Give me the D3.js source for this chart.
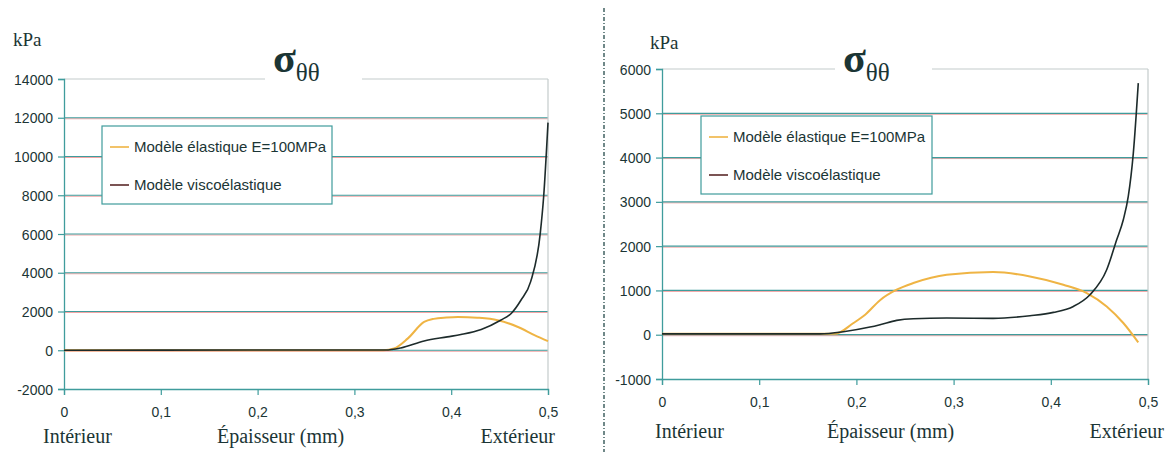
<!DOCTYPE html>
<html><head><meta charset="utf-8">
<script src="https://cdn.jsdelivr.net/npm/d3@7"></script>
<style>body{margin:0;background:#fff}svg{display:block}</style>
</head><body>
<svg id="c" width="1165" height="454"></svg>
<script>
// ---- data ----
const seriesNames = ["Modèle élastique E=100MPa", "Modèle viscoélastique"];
const xTicks = [0, 0.1, 0.2, 0.3, 0.4, 0.5];
const leftYTicks = [-2000, 0, 2000, 4000, 6000, 8000, 10000, 12000, 14000];
const rightYTicks = [-1000, 0, 1000, 2000, 3000, 4000, 5000, 6000];
const leftElasticX = [0, 0.19, 0.33, 0.341, 0.355, 0.372, 0.382, 0.395, 0.407, 0.427, 0.448, 0.469, 0.486, 0.5];
const leftElasticY = [0, 0, 0, 90, 600, 1460, 1620, 1690, 1720, 1680, 1550, 1200, 780, 470];
const leftViscoX = [0, 0.19, 0.332, 0.348, 0.372, 0.396, 0.41, 0.431, 0.451, 0.462, 0.472, 0.482, 0.492, 0.4955, 0.5];
const leftViscoY = [0, 10, 10, 120, 480, 690, 810, 1070, 1550, 1900, 2580, 3530, 6030, 7920, 11750];
const rightElasticX = [0, 0.178, 0.197, 0.209, 0.2243, 0.2414, 0.2586, 0.2929, 0.3408, 0.3786, 0.4129, 0.437, 0.4575, 0.4746, 0.49];
const rightElasticY = [20, 20, 264, 451, 780, 1016, 1167, 1354, 1415, 1316, 1129, 941, 639, 264, -173];
const rightViscoX = [0, 0.1626, 0.1866, 0.214, 0.2243, 0.2414, 0.2586, 0.2929, 0.3408, 0.3786, 0.4027, 0.4232, 0.4403, 0.4575, 0.4678, 0.4746, 0.4797, 0.4849, 0.49];
const rightViscoY = [20, 20, 68, 173, 226, 323, 361, 376, 369, 429, 504, 639, 903, 1467, 2144, 2596, 3122, 4100, 5680];

// ---- styles ----
const TEAL = "#3f9c9c", PINK = "#f3a5a5", TXT = "#1b3535";
const ORANGE = "#efb444", DARK = "#1d2b2b";
const svg = d3.select("#c");

// divider
svg.append("line").attr("x1", 604).attr("x2", 604).attr("y1", 8).attr("y2", 452)
  .attr("stroke", "#4d6b6b").attr("stroke-width", 1.6).attr("stroke-dasharray", "4,2,1,2");

function panel(o) {
  const g = svg.append("g");
  const x = d3.scaleLinear().domain([0, 0.5]).range([o.x0, o.x1]);
  const y = d3.scaleLinear().domain(o.yDomain).range([o.y1, o.y0]);
  const fmt = d => String(d).replace(".", ",");

  // gridlines
  o.yTicks.forEach((t, i) => {
    if (i === 0) return;
    const top = i === o.yTicks.length - 1;
    if (!top) g.append("line").attr("x1", x(0)).attr("x2", x(0.5)).attr("y1", y(t) + 1).attr("y2", y(t) + 1)
      .attr("stroke", PINK).attr("stroke-width", 1);
    g.append("line").attr("x1", x(0)).attr("x2", x(0.5)).attr("y1", y(t)).attr("y2", y(t))
      .attr("stroke", top ? "#c4cccc" : TEAL).attr("stroke-width", 1.2);
  });
  // right border
  g.append("line").attr("x1", x(0.5)).attr("x2", x(0.5)).attr("y1", y(o.yDomain[1])).attr("y2", y(o.yDomain[0]))
    .attr("stroke", "#c4cccc").attr("stroke-width", 1.2);

  // axes
  const ya = d3.axisLeft(y).tickValues(o.yTicks).tickSize(6).tickPadding(5).tickFormat(d => String(d));
  const xa = d3.axisBottom(x).tickValues(xTicks).tickSize(6).tickPadding(12).tickFormat(fmt);
  const gy = g.append("g").attr("transform", `translate(${x(0)},0)`).call(ya);
  const gx = g.append("g").attr("transform", `translate(0,${y(o.yDomain[0])})`).call(xa);
  [gy, gx].forEach(a => {
    a.select(".domain").attr("stroke", TEAL).attr("stroke-width", 1.3);
    a.selectAll(".tick line").attr("stroke", TEAL).attr("stroke-width", 1.2);
    a.selectAll("text").attr("fill", TXT).attr("font-family", "Liberation Sans, Arial, sans-serif").attr("font-size", 14);
  });
  gy.selectAll("text").attr("dy", "0.36em");

  // lines
  const pts = (xs, ys) => xs.map((v, i) => [v, ys[i]]);
  const line = d3.line().x(d => x(d[0])).y(d => y(d[1])).curve(d3.curveMonotoneX);
  g.append("path").datum(pts(o.eX, o.eY)).attr("d", line).attr("fill", "none")
    .attr("stroke", ORANGE).attr("stroke-width", 2);
  g.append("path").datum(pts(o.vX, o.vY)).attr("d", line).attr("fill", "none")
    .attr("stroke", DARK).attr("stroke-width", 1.6);

  // title with white background
  const ty = y(o.yDomain[1]);
  g.append("rect").attr("x", o.gap[0]).attr("y", ty - 3).attr("width", o.gap[1] - o.gap[0]).attr("height", 6).attr("fill", "#fff");
  const t = g.append("text").attr("x", o.gap[0] + 8).attr("y", 72).attr("fill", TXT)
    .attr("font-family", "Liberation Serif, Times New Roman, serif");
  t.append("tspan").attr("font-size", 42).attr("font-weight", "bold").text("σ");
  t.append("tspan").attr("font-size", 25).attr("dy", 9).text("θθ");

  // legend
  const L = o.legend;
  g.append("rect").attr("x", L[0]).attr("y", L[1]).attr("width", L[2]).attr("height", L[3])
    .attr("fill", "#fff").attr("stroke", TEAL).attr("stroke-width", 1.2);
  [ORANGE, "#5a2a2a"].forEach((c, i) => {
    const cy = L[1] + 21 + i * 38;
    g.append("line").attr("x1", L[0] + 8).attr("x2", L[0] + 27).attr("y1", cy).attr("y2", cy)
      .attr("stroke", c).attr("stroke-width", 1.6);
    g.append("text").attr("x", L[0] + 32).attr("y", cy).attr("dy", "0.36em").attr("fill", TXT)
      .attr("font-family", "Liberation Sans, Arial, sans-serif").attr("font-size", 15).text(seriesNames[i]);
  });

  // serif labels
  const serif = (tx, ty2, s, anchor, size) => g.append("text").attr("x", tx).attr("y", ty2).attr("text-anchor", anchor || "start")
    .attr("fill", TXT).attr("font-family", "Liberation Serif, Times New Roman, serif").attr("font-size", size || 20).text(s);
  serif(o.kpa[0], o.kpa[1], "kPa", "start", 19);
  serif(o.lab[0], o.lab[3], "Intérieur");
  serif(o.lab[1], o.lab[3], "Épaisseur (mm)");
  serif(o.lab[2], o.lab[3], "Extérieur", "end");
}

panel({x0: 64, x1: 548, y0: 79, y1: 389, yDomain: [-2000, 14000], yTicks: leftYTicks,
  eX: leftElasticX, eY: leftElasticY, vX: leftViscoX, vY: leftViscoY,
  gap: [265, 362], legend: [102, 126, 230, 78], kpa: [13, 46], lab: [43, 217, 555, 443]});
panel({x0: 662, x1: 1148, y0: 69, y1: 379, yDomain: [-1000, 6000], yTicks: rightYTicks,
  eX: rightElasticX, eY: rightElasticY, vX: rightViscoX, vY: rightViscoY,
  gap: [835, 932], legend: [701, 116, 231, 78], kpa: [650, 49], lab: [655, 827, 1164, 438]});
</script>
</body></html>
